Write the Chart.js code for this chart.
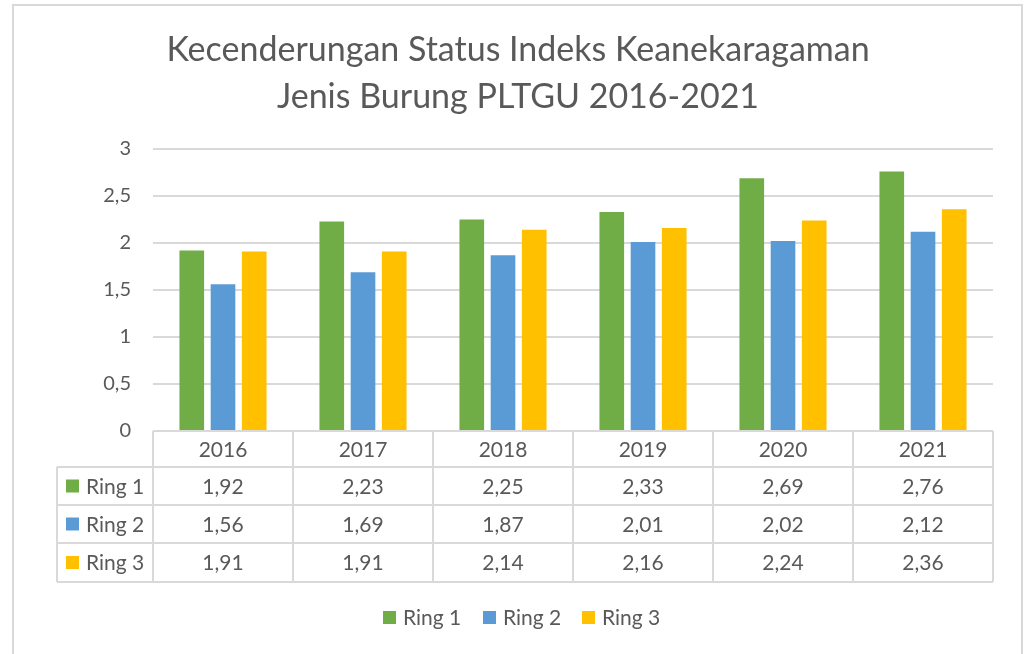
<!DOCTYPE html>
<html>
<head>
<meta charset="utf-8">
<script src="https://cdn.jsdelivr.net/npm/chart.js@4.4.0/dist/chart.umd.min.js"></script>
<style>
  html, body { margin: 0; padding: 0; background: #ffffff; }
  #wrap { width: 1027px; height: 654px; position: relative; }
</style>
</head>
<body>
<div id="wrap"><canvas id="c" width="1027" height="654"></canvas></div>
<script>
const titleLines = ['Kecenderungan Status Indeks Keanekaragaman', 'Jenis Burung PLTGU 2016-2021'];
const categories = ['2016', '2017', '2018', '2019', '2020', '2021'];
const seriesNames = ['Ring 1', 'Ring 2', 'Ring 3'];
const ring1 = [1.92, 2.23, 2.25, 2.33, 2.69, 2.76];
const ring2 = [1.56, 1.69, 1.87, 2.01, 2.02, 2.12];
const ring3 = [1.91, 1.91, 2.14, 2.16, 2.24, 2.36];
const yTickValues = [0, 0.5, 1, 1.5, 2, 2.5, 3];
const yTickLabels = ['0', '0,5', '1', '1,5', '2', '2,5', '3'];
const seriesColors = ['#70AD47', '#5B9BD5', '#FFC000'];

const FONT = 'Lato, "Open Sans", sans-serif';
const TEXT = '#595959';
const LINE = '#d9d9d9';
const fmt = v => v.toFixed(2).replace('.', ',');

const decor = {
  id: 'decor',
  afterDraw(chart) {
    const ctx = chart.ctx;
    const area = chart.chartArea;
    const xs = chart.scales.x;
    const series = [ring1, ring2, ring3];
    ctx.save();
    // outer border
    ctx.strokeStyle = LINE;
    ctx.lineWidth = 2;
    ctx.strokeRect(13, 5, 1009, 700);

    // title
    ctx.fillStyle = TEXT;
    ctx.textAlign = 'center';
    ctx.textBaseline = 'middle';
    ctx.font = '34px ' + FONT;
    ctx.fillText(titleLines[0], 518, 50);
    ctx.fillText(titleLines[1], 518, 97);

    // data table
    const left = area.left, right = area.right;
    const tableLeft = 57;
    const rowY = [area.bottom, 467, 505, 543, 582];
    const catW = (right - left) / categories.length;
    ctx.strokeStyle = LINE;
    ctx.lineWidth = 2;
    ctx.beginPath();
    ctx.moveTo(left, rowY[0]); ctx.lineTo(right, rowY[0]);
    for (let r = 1; r < rowY.length; r++) {
      ctx.moveTo(tableLeft, rowY[r]); ctx.lineTo(right, rowY[r]);
    }
    for (let i = 0; i <= categories.length; i++) {
      const x = left + i * catW;
      ctx.moveTo(x, rowY[0]); ctx.lineTo(x, rowY[4]);
    }
    ctx.moveTo(tableLeft, rowY[1]); ctx.lineTo(tableLeft, rowY[4]);
    ctx.stroke();

    ctx.fillStyle = TEXT;
    ctx.font = '21px ' + FONT;
    ctx.textAlign = 'center';
    ctx.textBaseline = 'middle';
    categories.forEach((c, i) => {
      const cx = xs.getPixelForValue(i);
      ctx.fillText(c, cx, (rowY[0] + rowY[1]) / 2 + 1);
      series.forEach((s, k) => {
        ctx.fillText(fmt(s[i]), cx, (rowY[k + 1] + rowY[k + 2]) / 2 + 1);
      });
    });
    seriesNames.forEach((n, k) => {
      const cy = (rowY[k + 1] + rowY[k + 2]) / 2;
      ctx.fillStyle = seriesColors[k];
      ctx.fillRect(66, cy - 6.5, 13, 13);
      ctx.fillStyle = TEXT;
      ctx.textAlign = 'left';
      ctx.fillText(n, 86, cy + 1);
    });

    // legend
    const legX = [383, 483, 582];
    seriesNames.forEach((n, k) => {
      ctx.fillStyle = seriesColors[k];
      ctx.fillRect(legX[k], 611, 13, 13);
      ctx.fillStyle = TEXT;
      ctx.textAlign = 'left';
      ctx.fillText(n, legX[k] + 20, 618);
    });
    ctx.restore();
  }
};

new Chart(document.getElementById('c'), {
  type: 'bar',
  data: {
    labels: categories,
    datasets: [
      { label: seriesNames[0], data: ring1, backgroundColor: seriesColors[0] },
      { label: seriesNames[1], data: ring2, backgroundColor: seriesColors[1] },
      { label: seriesNames[2], data: ring3, backgroundColor: seriesColors[2] }
    ]
  },
  options: {
    responsive: false,
    animation: false,
    devicePixelRatio: 1,
    datasets: { bar: { categoryPercentage: 0.669, barPercentage: 0.79 } },
    layout: { padding: { left: 13, top: 149, right: 34, bottom: 223 } },
    plugins: {
      legend: { display: false },
      title: { display: false },
      tooltip: { enabled: false }
    },
    scales: {
      x: { display: false },
      y: {
        min: 0, max: 3,
        afterFit(scale) { scale.width = 140; },
        afterBuildTicks(scale) { scale.ticks = yTickValues.map(v => ({ value: v })); },
        border: { display: false },
        grid: { color: LINE, lineWidth: 2, drawTicks: false },
        ticks: {
          padding: 22,
          color: TEXT,
          font: { family: FONT, size: 20 },
          callback: (v) => { const i = yTickValues.indexOf(v); return i >= 0 ? yTickLabels[i] : ''; }
        }
      }
    }
  },
  plugins: [decor]
});
</script>
</body>
</html>
